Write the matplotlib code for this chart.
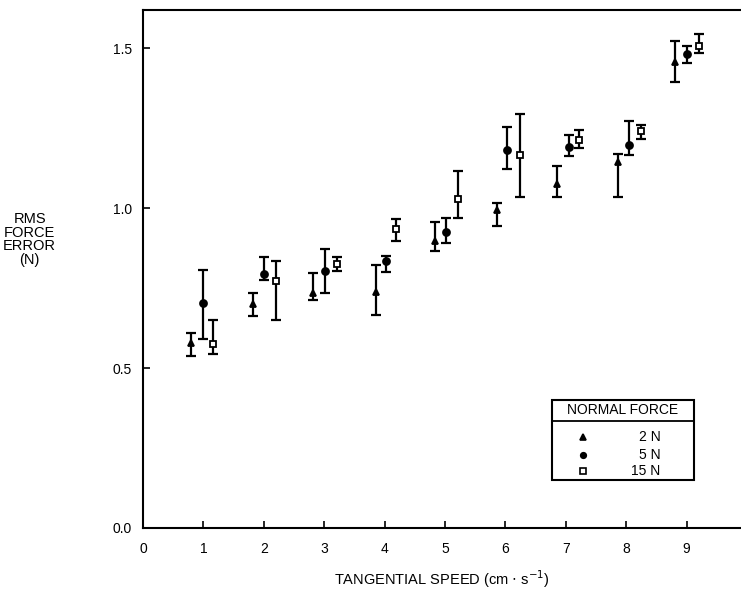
import matplotlib
matplotlib.use('Agg')
import matplotlib.pyplot as plt
import numpy as np

plt.rcParams['font.family'] = ['Liberation Sans', 'DejaVu Sans']

# speed positions (cm/s), one per force level, as plotted
speed_2n  = [0.79, 1.82, 2.82, 3.85, 4.84, 5.86, 6.86, 7.86, 8.80]
speed_5n  = [0.99, 2.00, 3.01, 4.02, 5.02, 6.03, 7.05, 8.04, 9.00]
speed_15n = [1.16, 2.20, 3.21, 4.19, 5.21, 6.24, 7.22, 8.24, 9.21]

# RMS force error (N): mean, lower bar end, upper bar end
err_2n      = [0.580, 0.699, 0.736, 0.738, 0.897, 0.996, 1.075, 1.145, 1.457]
err_2n_lo   = [0.538, 0.663, 0.713, 0.667, 0.866, 0.943, 1.034, 1.034, 1.395]
err_2n_hi   = [0.611, 0.736, 0.799, 0.822, 0.956, 1.015, 1.133, 1.169, 1.523]

err_5n      = [0.704, 0.795, 0.805, 0.834, 0.926, 1.183, 1.190, 1.197, 1.482]
err_5n_lo   = [0.592, 0.775, 0.735, 0.800, 0.891, 1.123, 1.162, 1.167, 1.455]
err_5n_hi   = [0.808, 0.846, 0.871, 0.852, 0.968, 1.254, 1.230, 1.274, 1.507]

err_15n     = [0.576, 0.772, 0.825, 0.934, 1.028, 1.166, 1.213, 1.242, 1.506]
err_15n_lo  = [0.545, 0.651, 0.804, 0.898, 0.968, 1.035, 1.188, 1.218, 1.484]
err_15n_hi  = [0.652, 0.835, 0.846, 0.967, 1.117, 1.294, 1.245, 1.261, 1.544]

x_ticks = list(range(10))
y_ticks = [0.0, 0.5, 1.0, 1.5]
legend_labels = ['2 N', '5 N', '15 N']

fig = plt.figure(figsize=(7.41, 5.91), dpi=100)
ax = fig.add_axes([0.193, 0.1066, 0.807, 0.8765])

series = [
    (speed_2n, err_2n, err_2n_lo, err_2n_hi, dict(marker='^', mfc='black')),
    (speed_5n, err_5n, err_5n_lo, err_5n_hi, dict(marker='o', mfc='black')),
    (speed_15n, err_15n, err_15n_lo, err_15n_hi, dict(marker='s', mfc='white')),
]
for xs, ys, lo, hi, mk in series:
    ys = np.array(ys)
    yerr = [ys - np.array(lo), np.array(hi) - ys]
    ax.errorbar(xs, ys, yerr=yerr, fmt='none', ecolor='black',
                elinewidth=1.6, capsize=3.5, capthick=1.6, zorder=2)
    ax.plot(xs, ys, linestyle='none', color='black', mec='black',
            mew=1.3, markersize=5, zorder=3, **mk)

ax.set_xlim(0, 9.9)
ax.set_ylim(0, 1.62)
ax.set_xticks(x_ticks)
ax.set_xticklabels([str(t) for t in x_ticks])
ax.set_yticks(y_ticks)
ax.set_yticklabels([f'{t:.1f}' for t in y_ticks])
ax.tick_params(direction='in', length=5, width=1.2, labelsize=10, colors='black')
ax.tick_params(axis='x', pad=10)
ax.tick_params(axis='y', pad=8)
ax.spines['right'].set_visible(False)
for s in ['left', 'bottom', 'top']:
    ax.spines[s].set_linewidth(1.5)

ax.set_xlabel(r'TANGENTIAL SPEED (cm $\cdot$ s$^{-1}$)', fontsize=10.5, labelpad=9)
fig.text(0.040, 0.595, 'RMS\nFORCE\nERROR\n(N)', ha='center', va='center',
         fontsize=10.5, linespacing=0.95)

# legend box with header
tr = ax.transAxes
ax.add_patch(plt.Rectangle((0.684, 0.0927), 0.237, 0.154, transform=tr,
                           fill=False, lw=1.5, ec='black', zorder=4))
ax.plot([0.684, 0.921], [0.2066, 0.2066], transform=tr, color='black', lw=1.3, zorder=4)
ax.text(0.8025, 0.228, 'NORMAL FORCE', transform=tr, ha='center', va='center', fontsize=10)
leg_y = [0.176, 0.141, 0.110]
for (_, _, _, _, mk), lab, yy in zip(series, legend_labels, leg_y):
    ax.plot([0.736], [yy], transform=tr, linestyle='none', color='black', mec='black',
            mew=1.2, markersize=4, zorder=5, **mk)
    ax.text(0.865, yy, lab, transform=tr, ha='right', va='center', fontsize=10)

fig.savefig('out.png', dpi=100)
